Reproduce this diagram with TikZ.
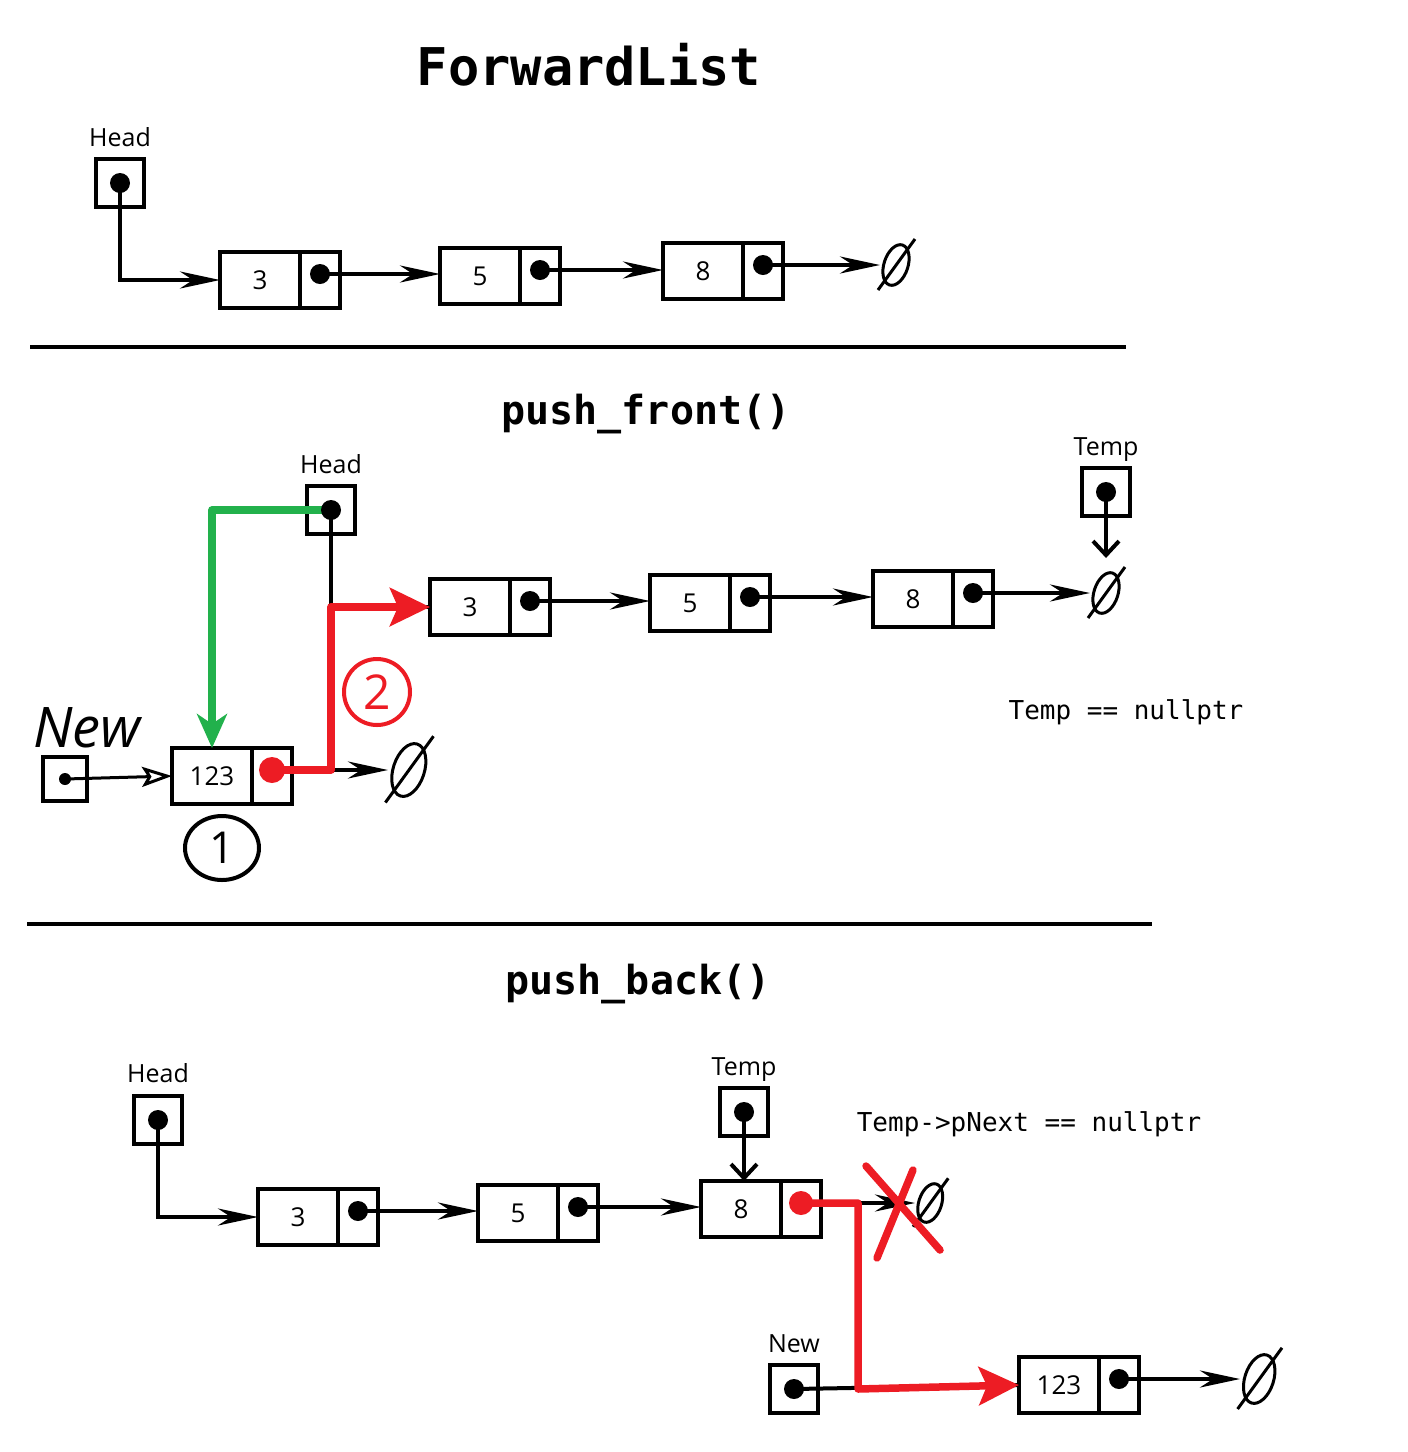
\documentclass[tikz,border=0pt]{standalone}
\usepackage{fontspec}
\setmainfont{Open Sans}
\newfontfamily\monofont{DejaVu Sans Mono}
\usetikzlibrary{arrows.meta, positioning, shapes.geometric}
\definecolor{paintred}{HTML}{ED1C24}
\definecolor{paintgreen}{HTML}{22B14C}

\newcommand{\nul}[1]{
  \begin{scope}[#1]
    \draw[line width = 3pt, rotate around = {-18:(16, 0)}] (16, 0) ellipse (12pt and 21pt);
    \draw[line width = 3pt] (35, -26) -- (-2, 25);
  \end{scope}
}

\tikzset{
  val/.style = {draw, line width = 4.2pt, minimum width = 80pt, minimum height = 56pt,
    inner sep = 0pt, outer sep = 0pt, font = \fontsize{26}{26}\selectfont},
  ptr/.style = {val, minimum width = 40pt},
  var/.style = {draw, line width = 4.2pt, minimum size = 48pt, inner sep = 0pt, outer sep = 0pt},
  lbl/.style = {anchor = base, inner sep = 0pt, font = \fontsize{25}{25}\selectfont},
  link/.style = {line width = 4pt, -{Stealth[length = 40pt, width = 17pt, inset = 13pt]}},
  tmparrow/.style = {line width = 4pt, -{Straight Barb[length = 14pt, width = 26pt]}},
  redline/.style = {paintred, line width = 7.5pt, line join = round,
    -{Stealth[length = 40pt, width = 38pt, inset = 8pt]}},
  greenline/.style = {paintgreen, line width = 7.5pt, line join = round,
    -{Stealth[length = 34pt, width = 30pt, inset = 10pt]}},
  heading/.style = {anchor = base, inner sep = 0pt, font = \monofont\bfseries\fontsize{40}{40}\selectfont},
  code/.style = {anchor = base, inner sep = 0pt, font = \monofont\fontsize{26}{26}\selectfont}
}

\begin{document}
\begin{tikzpicture}[x = 1pt, y = -1pt]
  \useasboundingbox (0, 0) rectangle (1408, 1452);

  % ForwardList
  \node[heading, font = \monofont\bfseries\fontsize{52}{52}\selectfont] (title) at (589, 85) {ForwardList};
  \node[var] (h1) at (120, 183) {};
  \node[lbl] (h1l) at ([yshift = 13pt]h1.north) {Head};
  \node[val] (a1) at (260, 280) {3};
  \node[ptr, right = 0pt of a1] (a1p) {};
  \node[val] (a2) at (480, 276) {5};
  \node[ptr, right = 0pt of a2] (a2p) {};
  \node[val] (a3) at (703, 271) {8};
  \node[ptr, right = 0pt of a3] (a3p) {};
  \coordinate (a1d) at ([yshift = 6pt]a1p.center);
  \coordinate (a2d) at ([yshift = 6pt]a2p.center);
  \coordinate (a3d) at ([yshift = 6pt]a3p.center);
  \coordinate (z1) at (880, 265);

  \draw[link] (h1.center) |- (a1.west);
  \draw[link] (a1d) -- (a1d -| a2.west);
  \draw[link] (a2d) -- (a2d -| a3.west);
  \draw[link] (a3d) -- (z1);
  \nul{shift = {(z1)}}

  \draw[line width = 4.5pt] (30, 347) -- (1126, 347);

  % push_front()
  \node[heading] (front) at (646, 424) {push\_front()};
  \node[var] (h2) at (331, 510) {};
  \node[lbl] (h2l) at ([yshift = 13pt]h2.north) {Head};
  \node[var] (t2) at (1106, 492) {};
  \node[lbl] (t2l) at ([yshift = 13pt]t2.north) {Temp};
  \node[val] (b1) at (470, 607) {3};
  \node[ptr, right = 0pt of b1] (b1p) {};
  \node[val] (b2) at (690, 603) {5};
  \node[ptr, right = 0pt of b2] (b2p) {};
  \node[val] (b3) at (913, 599) {8};
  \node[ptr, right = 0pt of b3] (b3p) {};
  \coordinate (b1d) at ([yshift = 6pt]b1p.center);
  \coordinate (b2d) at ([yshift = 6pt]b2p.center);
  \coordinate (b3d) at ([yshift = 6pt]b3p.center);
  \coordinate (z2) at (1090, 593);
  \coordinate (z2t) at (1106, 558);

  \draw[link] (b1d) -- (b1d -| b2.west);
  \draw[link] (b2d) -- (b2d -| b3.west);
  \draw[link] (b3d) -- (z2);
  \nul{shift = {(z2)}}
  \draw[tmparrow] (t2.center) -- (z2t);

  \node[var, minimum size = 44pt] (n2) at (65, 779) {};
  \node[lbl, font = \itshape\fontsize{56}{56}\selectfont] (n2l) at ([xshift = 22pt, yshift = 10pt]n2.north) {New};
  \node[val] (c1) at (212, 776) {123};
  \node[ptr, right = 0pt of c1] (c1p) {};
  \coordinate (c1d) at ([yshift = 6pt]c1p.center);
  \coordinate (z3) at (388, 770);

  \draw[line width = 3pt, -{Stealth[open, length = 30pt, width = 20pt, inset = 6pt]}] (n2.center) -- (c1.west);
  \fill (n2.center) circle (6pt);
  \draw[link] (c1d) -- (z3);
  \nul{shift = {(z3)}, scale = 1.3}
  \draw[line width = 4pt] (h2.center) |- (b1.west);
  \draw[redline] (c1d) -| (h2.center |- b1.west) -- (b1.west);
  \fill[paintred] (c1d) circle (13pt);
  \draw[greenline] (h2.center) -| (c1.north);

  \node[draw = paintred, text = paintred, circle, line width = 4pt, minimum size = 66pt,
    font = \fontsize{48}{48}\selectfont] (two) at (377, 692) {2};
  \node[draw, ellipse, line width = 4pt, minimum width = 74pt, minimum height = 64pt,
    font = \fontsize{44}{44}\selectfont] (one) at (222, 848) {1};
  \node[code] (cond1) at (1126, 719) {Temp == nullptr};

  \draw[line width = 4.5pt] (27, 924) -- (1152, 924);

  % push_back()
  \node[heading] (back) at (638, 994) {push\_back()};
  \node[var] (h3) at (158, 1120) {};
  \node[lbl] (h3l) at ([yshift = 14pt]h3.north) {Head};
  \node[val] (d1) at (298, 1217) {3};
  \node[ptr, right = 0pt of d1] (d1p) {};
  \node[val] (d2) at (518, 1213) {5};
  \node[ptr, right = 0pt of d2] (d2p) {};
  \node[val] (d3) at (741, 1209) {8};
  \node[ptr, right = 0pt of d3] (d3p) {};
  \coordinate (d1d) at ([yshift = 6pt]d1p.center);
  \coordinate (d2d) at ([yshift = 6pt]d2p.center);
  \coordinate (d3d) at ([yshift = 6pt]d3p.center);
  \node[var] (t3) at (744, 1112) {};
  \node[lbl] (t3l) at ([yshift = 13pt]t3.north) {Temp};
  \coordinate (z4) at (915, 1203);

  \draw[link] (h3.center) |- (d1.west);
  \draw[link] (d1d) -- (d1d -| d2.west);
  \draw[link] (d2d) -- (d2d -| d3.west);
  \draw[tmparrow] (t3.center) -- (t3.center |- d3.north);
  \draw[link] (d3d) -- (z4);
  \nul{shift = {(z4)}, scale = 0.95}
  \node[code] (cond2) at (1029, 1131) {Temp->pNext == nullptr};

  \node[var] (n3) at (794, 1389) {};
  \node[lbl] (n3l) at ([yshift = 13pt]n3.north) {New};
  \node[val] (e1) at (1059, 1385) {123};
  \node[ptr, right = 0pt of e1] (e1p) {};
  \coordinate (e1d) at ([yshift = 6pt]e1p.center);
  \coordinate (k3) at (858, 1389);
  \coordinate (z5) at (1240, 1379);

  \draw[line width = 4pt] (n3.center) -- (e1.west);
  \draw[redline] (d3d) -| (k3) -- (e1.west);
  \fill[paintred] (d3d) circle (12pt);
  \draw[paintred, line width = 7.5pt, line cap = round] (866, 1166) -- (940, 1250);
  \draw[paintred, line width = 7.5pt, line cap = round] (913, 1170) -- (877, 1258);
  \draw[link] (e1d) -- (z5);
  \nul{shift = {(z5)}, scale = 1.2}

  \foreach \p in {a1d, a2d, a3d, b1d, b2d, b3d, d1d, d2d, e1d}
    \fill (\p) circle (10pt);
  \foreach \p in {h1, h2, t2, h3, t3, n3}
    \fill (\p.center) circle (10pt);
\end{tikzpicture}
\end{document}
